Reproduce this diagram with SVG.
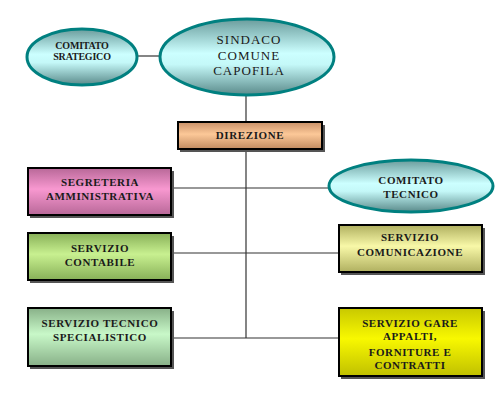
<svg xmlns="http://www.w3.org/2000/svg" width="500" height="407" viewBox="0 0 500 407">
<defs>
<linearGradient id="gTeal" x1="0" y1="0" x2="0" y2="1">
<stop offset="0" stop-color="#6a9c9c"/><stop offset="0.45" stop-color="#ccffff"/><stop offset="0.6" stop-color="#c4f8f8"/><stop offset="1" stop-color="#5a8a8a"/>
</linearGradient>
<linearGradient id="gPeach" x1="0" y1="0" x2="0" y2="1">
<stop offset="0" stop-color="#c89068"/><stop offset="0.45" stop-color="#fcc898"/><stop offset="1" stop-color="#c08a60"/>
</linearGradient>
<linearGradient id="gPink" x1="0" y1="0" x2="0" y2="1">
<stop offset="0" stop-color="#b86898"/><stop offset="0.45" stop-color="#f898d0"/><stop offset="1" stop-color="#b86898"/>
</linearGradient>
<linearGradient id="gGreen" x1="0" y1="0" x2="0" y2="1">
<stop offset="0" stop-color="#88b058"/><stop offset="0.45" stop-color="#c8f090"/><stop offset="1" stop-color="#88b058"/>
</linearGradient>
<linearGradient id="gPaleY" x1="0" y1="0" x2="0" y2="1">
<stop offset="0" stop-color="#b0b060"/><stop offset="0.45" stop-color="#f8f8a8"/><stop offset="1" stop-color="#b0b060"/>
</linearGradient>
<linearGradient id="gMint" x1="0" y1="0" x2="0" y2="1">
<stop offset="0" stop-color="#88b088"/><stop offset="0.45" stop-color="#c8f8c8"/><stop offset="1" stop-color="#88b088"/>
</linearGradient>
<linearGradient id="gYellow" x1="0" y1="0" x2="0" y2="1">
<stop offset="0" stop-color="#c8c800"/><stop offset="0.45" stop-color="#f8f800"/><stop offset="1" stop-color="#c0c000"/>
</linearGradient>
</defs>
<style>
.conn{stroke:#333;stroke-width:1.2;fill:none}
.ell{stroke:#008080;stroke-width:3;fill:url(#gTeal)}
.box{stroke:#000;stroke-width:2}
.sh{fill:#555}
.t{font-family:"Liberation Serif","Times New Roman",serif;font-weight:bold;font-size:11px;fill:#1a1a1a;text-anchor:middle;letter-spacing:0.6px}
.big{font-weight:normal;font-size:13px;letter-spacing:1px}
.sm{font-size:10px;letter-spacing:-0.2px}
</style>
<rect width="500" height="407" fill="#fff"/>
<g id="connectors">
<line class="conn" x1="138" y1="56" x2="160" y2="56"/>
<line class="conn" x1="246" y1="96" x2="246" y2="338"/>
<line class="conn" x1="171" y1="188" x2="329" y2="188"/>
<line class="conn" x1="171" y1="253" x2="338" y2="253"/>
<line class="conn" x1="171" y1="338" x2="338" y2="338"/>
</g>
<g id="comitato-strategico">
<ellipse class="ell" cx="82" cy="57" rx="55" ry="28"/>
<text class="t sm" x="82" y="49">COMITATO</text>
<text class="t sm" x="82" y="60">SRATEGICO</text>
</g>
<g id="sindaco">
<ellipse class="ell" cx="247" cy="57" rx="87" ry="38"/>
<text class="t big" x="249" y="44">SINDACO</text>
<text class="t big" x="249" y="60">COMUNE</text>
<text class="t big" x="249" y="75">CAPOFILA</text>
</g>
<g id="direzione">
<rect class="sh" x="180" y="125" width="145" height="27"/>
<rect class="box" x="178" y="122" width="144" height="27" fill="url(#gPeach)"/>
<text class="t" x="250" y="139">DIREZIONE</text>
</g>
<g id="segreteria">
<rect class="sh" x="30" y="171" width="144" height="47"/>
<rect class="box" x="28" y="168" width="143" height="47" fill="url(#gPink)"/>
<text class="t" x="100" y="186">SEGRETERIA</text>
<text class="t" x="100" y="200">AMMINISTRATIVA</text>
</g>
<g id="comitato-tecnico">
<ellipse class="ell" cx="411" cy="186" rx="82" ry="26"/>
<text class="t" x="411" y="184">COMITATO</text>
<text class="t" x="411" y="198">TECNICO</text>
</g>
<g id="contabile">
<rect class="sh" x="30" y="236" width="144" height="47"/>
<rect class="box" x="28" y="233" width="143" height="47" fill="url(#gGreen)"/>
<text class="t" x="100" y="252">SERVIZIO</text>
<text class="t" x="100" y="266">CONTABILE</text>
</g>
<g id="comunicazione">
<rect class="sh" x="341" y="228" width="144" height="47"/>
<rect class="box" x="339" y="225" width="143" height="47" fill="url(#gPaleY)"/>
<text class="t" x="410" y="241">SERVIZIO</text>
<text class="t" x="410" y="256">COMUNICAZIONE</text>
</g>
<g id="tecnico-specialistico">
<rect class="sh" x="30" y="311" width="144" height="58"/>
<rect class="box" x="28" y="308" width="143" height="58" fill="url(#gMint)"/>
<text class="t" x="100" y="327">SERVIZIO TECNICO</text>
<text class="t" x="100" y="341">SPECIALISTICO</text>
</g>
<g id="gare">
<rect class="sh" x="341" y="311" width="144" height="68"/>
<rect class="box" x="339" y="308" width="143" height="68" fill="url(#gYellow)"/>
<text class="t" x="410" y="327">SERVIZIO GARE</text>
<text class="t" x="410" y="340">APPALTI,</text>
<text class="t" x="410" y="356">FORNITURE E</text>
<text class="t" x="410" y="369">CONTRATTI</text>
</g>
</svg>
